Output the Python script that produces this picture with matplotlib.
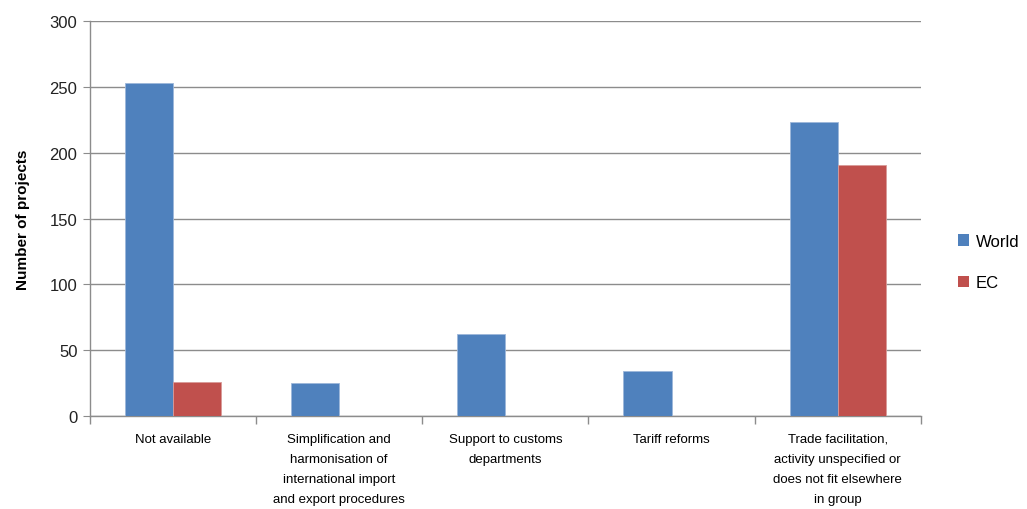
import numpy as np
import matplotlib
matplotlib.use("Agg")
import matplotlib.pyplot as plt
from matplotlib.patches import Patch

plt.rcParams['font.family'] = ['Liberation Sans', 'DejaVu Sans']

categories = [
    "Not available",
    "Simplification and\nharmonisation of\ninternational import\nand export procedures",
    "Support to customs\ndepartments",
    "Tariff reforms",
    "Trade facilitation,\nactivity unspecified or\ndoes not fit elsewhere\nin group",
]
world = [253, 25, 62, 34, 223]
ec = [26, 0, 0, 0, 191]
yticks = [0, 50, 100, 150, 200, 250, 300]

blue = "#4F81BD"
red = "#C0504D"
grid = "#8C8C8C"

fig = plt.figure(figsize=(10.27, 5.10), dpi=100)
ax = fig.add_axes([0.0876, 0.182, 0.809, 0.775])

x = np.arange(len(categories))
w = 0.29
ax.bar(x - w / 2, world, w, color=blue, edgecolor="#9DB7DA", linewidth=0.6, zorder=3)
ax.bar(x + w / 2, ec, w, color=red, edgecolor="#D89A98", linewidth=0.6, zorder=3)

ax.set_xlim(-0.5, len(categories) - 0.5)
ax.set_ylim(0, 300)
ax.set_yticks(yticks)
ax.yaxis.grid(True, color=grid, linewidth=1.0, zorder=0)
ax.tick_params(axis="y", length=5, color=grid, labelsize=12, labelcolor="#222222", pad=4)

# category labels centered, tick marks at the boundaries
ax.set_xticks(x)
ax.set_xticklabels(categories, fontsize=9.5, linespacing=1.9, va="top")
ax.tick_params(axis="x", length=0, pad=12)
ax.set_xticks(np.arange(-0.5, len(categories)), minor=True)
ax.tick_params(axis="x", which="minor", length=6, color=grid, width=1.0)

for side in ["top", "right"]:
    ax.spines[side].set_visible(False)
for side in ["left", "bottom"]:
    ax.spines[side].set_color(grid)
    ax.spines[side].set_linewidth(1.0)

ax.set_ylabel("Number of projects", fontsize=11, fontweight="bold", labelpad=14)

handles = [Patch(facecolor=blue, label="World"), Patch(facecolor=red, label="EC")]
fig.legend(handles=handles, loc="center left", bbox_to_anchor=(0.918, 0.484),
           frameon=False, fontsize=12, handlelength=0.7, handleheight=0.7,
           handletextpad=0.4, labelspacing=1.6)

fig.savefig("out.png", dpi=100)
